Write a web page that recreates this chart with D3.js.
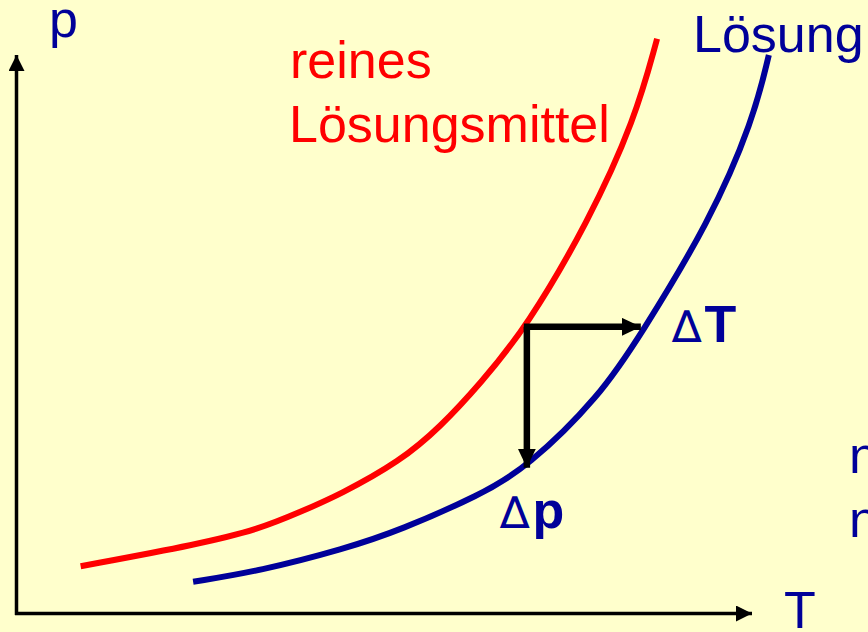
<!DOCTYPE html>
<html>

<head>
  <title>Dampfdruckkurven</title>
  <script src="https://cdn.jsdelivr.net/npm/d3@7"></script>
  <style>
    body {
      margin: 0;
      overflow: hidden;
      background-color: #FFFFCC;
      font-family: "Liberation Sans", Arial, sans-serif;
    }
  </style>
</head>

<body>
  <svg id="container" width="868" height="632"></svg>

  <script>
    // vapour pressure curves (T and p in arbitrary units 0..100)
    const solventT = [8.6, 24.7, 32.8, 38.2, 43.6, 51.8, 57.2, 62.6, 68.9, 77.2, 83.5, 86.5];
    const solventP = [7.8, 11.5, 14.0, 16.8, 19.7, 25.3, 31.0, 38.2, 47.7, 65.2, 82.2, 95.7];

    const solutionT = [23.8, 32.8, 44.3, 51.8, 62.6, 68.9, 78.8, 84.2, 93.6, 99.5, 101.6];
    const solutionP = [5.2, 7.0, 10.7, 13.8, 19.7, 24.2, 36.2, 46.2, 65.2, 82.2, 93.0];

    // the two arrows: start point on the red curve, ends at the blue one
    const startT = 68.9, startP = 47.7;
    const deltaTEnd = 84.3;
    const deltaPEnd = 24.2;

    const BLUE = '#000099';
    const RED = '#FF0000';

    const svg = d3.select('#container');

    const x = d3.scaleLinear().domain([0, 100]).range([17, 757]);
    const y = d3.scaleLinear().domain([0, 100]).range([613, 13]);

    const defs = svg.append('defs');
    const addMarker = (id, w, h) => {
      defs.append('marker')
        .attr('id', id)
        .attr('viewBox', '0 0 10 10')
        .attr('refX', 10)
        .attr('refY', 5)
        .attr('markerWidth', w)
        .attr('markerHeight', h)
        .attr('markerUnits', 'userSpaceOnUse')
        .attr('orient', 'auto')
        .attr('preserveAspectRatio', 'none')
        .append('path')
        .attr('fill', 'black')
        .attr('d', 'M 0 0 L 10 5 L 0 10 z');
    };
    addMarker('axisHead', 16, 16);
    addMarker('deltaHead', 19, 18);

    // axes
    svg.append('line')
      .attr('x1', 16.5).attr('y1', 615)
      .attr('x2', 16.5).attr('y2', 55)
      .attr('stroke', 'black')
      .attr('stroke-width', 3.5)
      .attr('marker-end', 'url(#axisHead)');

    svg.append('line')
      .attr('x1', 15).attr('y1', 613.5)
      .attr('x2', 752).attr('y2', 613.5)
      .attr('stroke', 'black')
      .attr('stroke-width', 3.5)
      .attr('marker-end', 'url(#axisHead)');

    // smooth through the read points (the hand-read values are a bit noisy)
    const line = d3.line()
      .x(d => x(d[0]))
      .y(d => y(d[1]))
      .curve(d3.curveBasis);

    svg.append('path')
      .datum(d3.zip(solventT, solventP))
      .attr('d', line)
      .attr('fill', 'none')
      .attr('stroke', RED)
      .attr('stroke-width', 6);

    svg.append('path')
      .datum(d3.zip(solutionT, solutionP))
      .attr('d', line)
      .attr('fill', 'none')
      .attr('stroke', BLUE)
      .attr('stroke-width', 6);

    // delta arrows
    svg.append('line')
      .attr('x1', x(startT) - 3).attr('y1', y(startP))
      .attr('x2', x(deltaTEnd)).attr('y2', y(startP))
      .attr('stroke', 'black')
      .attr('stroke-width', 6.5)
      .attr('marker-end', 'url(#deltaHead)');

    svg.append('line')
      .attr('x1', x(startT)).attr('y1', y(startP))
      .attr('x2', x(startT)).attr('y2', y(deltaPEnd))
      .attr('stroke', 'black')
      .attr('stroke-width', 6.5)
      .attr('marker-end', 'url(#deltaHead)');

    // labels
    const label = (txt, px, py, color) =>
      svg.append('text')
        .attr('x', px).attr('y', py)
        .attr('fill', color)
        .style('font-size', '52px')
        .text(txt);

    label('p', 49, 37, BLUE);
    label('T', 784, 628, BLUE);
    label('Lösung', 693, 52, BLUE);
    label('reines', 290, 78, RED);
    label('Lösungsmittel', 289, 142, RED);
    label('n', 849, 473, BLUE);
    label('n', 849, 537, BLUE);

    const deltaLabel = (sym, px, py) => {
      const t = svg.append('text')
        .attr('x', px).attr('y', py)
        .attr('fill', BLUE)
        .style('font-size', '52px');
      t.append('tspan').style('font-family', '"DejaVu Sans"').style('font-weight', 'normal')
        .style('font-size', '44px').text('∆');
      t.append('tspan').style('font-weight', 'bold').attr('dx', 3).text(sym);
    };
    deltaLabel('T', 672, 342);
    deltaLabel('p', 500, 528);
  </script>
</body>

</html>
